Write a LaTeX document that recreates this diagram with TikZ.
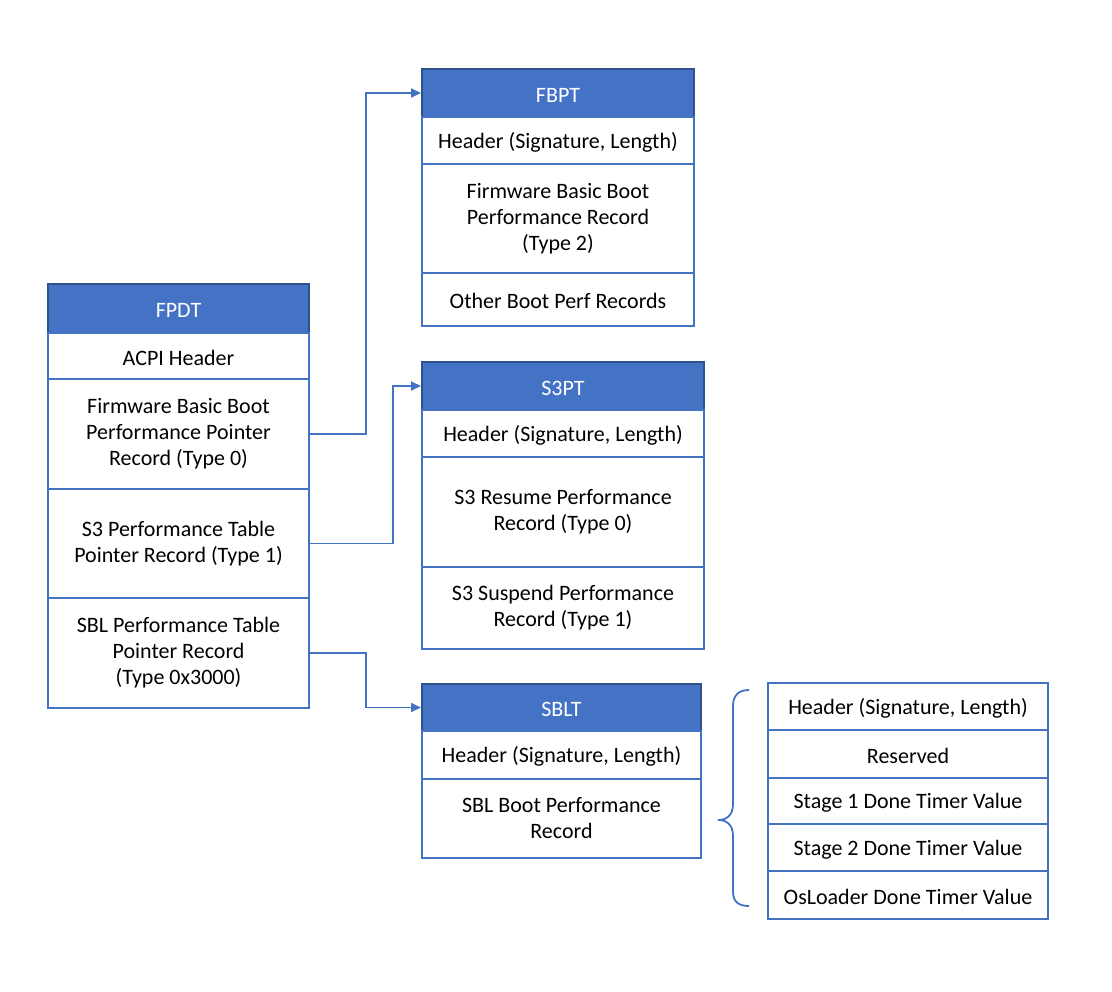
\documentclass[tikz,border=0pt]{standalone}
\usepackage{fontspec}
\setmainfont{Carlito}
\usetikzlibrary{arrows.meta}
\definecolor{mblue}{RGB}{68,114,196}
\definecolor{dblue}{RGB}{47,82,143}
\tikzset{
  cell/.style={draw=mblue, line width=2pt, fill=white, anchor=north west,
    inner sep=0pt, align=center, font=\fontsize{22}{26}\selectfont, text=black,
    execute at begin node={\rule{0pt}{19pt}}},
  hdr/.style={cell, fill=mblue, draw=dblue, text=white},
  conn/.style={draw=mblue, line width=1.8pt, -{Triangle[length=10pt,width=9pt]}},
  bracepath/.style={draw=mblue, line width=1.8pt}
}
\newcommand{\cellbox}[6]{% style, name, x, y, w, h, text
  \node[#1, minimum width=#5pt, minimum height=#6pt] (#2) at (#3,#4)}
\begin{document}
\begin{tikzpicture}[x=1pt,y=-1pt]
\useasboundingbox (0,0) rectangle (1112,992);
% FPDT
\cellbox{hdr}{fpdt0}{47}{283}{261}{49} {FPDT};
\cellbox{cell}{fpdt1}{47}{332}{261}{46} {ACPI Header};
\cellbox{cell}{fpdt2}{47}{378}{261}{110} {Firmware Basic Boot\\Performance Pointer\\Record (Type 0)};
\cellbox{cell}{fpdt3}{47}{488}{261}{109} {S3 Performance Table\\Pointer Record (Type 1)};
\cellbox{cell}{fpdt4}{47}{597}{261}{110} {SBL Performance Table\\Pointer Record\\(Type 0x3000)};
% FBPT
\cellbox{hdr}{fbpt0}{421}{68}{272}{48} {FBPT};
\cellbox{cell}{fbpt1}{421}{116}{272}{47} {Header (Signature, Length)};
\cellbox{cell}{fbpt2}{421}{163}{272}{109} {Firmware Basic Boot\\Performance Record\\(Type 2)};
\cellbox{cell}{fbpt3}{421}{272}{272}{53} {Other Boot Perf Records};
% S3PT
\cellbox{hdr}{s3pt0}{421}{361}{282}{48} {S3PT};
\cellbox{cell}{s3pt1}{421}{409}{282}{47} {Header (Signature, Length)};
\cellbox{cell}{s3pt2}{421}{456}{282}{110} {S3 Resume Performance\\Record (Type 0)};
\cellbox{cell}{s3pt3}{421}{566}{282}{82} {S3 Suspend Performance\\Record (Type 1)};
% SBLT
\cellbox{hdr}{sblt0}{421}{683}{279}{47} {SBLT};
\cellbox{cell}{sblt1}{421}{730}{279}{48} {Header (Signature, Length)};
\cellbox{cell}{sblt2}{421}{778}{279}{79} {SBL Boot Performance\\Record};
% SBL record detail
\cellbox{cell}{rec1}{767}{682}{280}{47} {Header (Signature, Length)};
\cellbox{cell}{rec2}{767}{729}{280}{48} {Reserved};
\cellbox{cell}{rec3}{767}{777}{280}{46} {Stage 1 Done Timer Value};
\cellbox{cell}{rec4}{767}{823}{280}{47} {Stage 2 Done Timer Value};
\cellbox{cell}{rec5}{767}{870}{280}{48} {OsLoader Done Timer Value};
% connectors
\draw[conn] (fpdt2.east) -- ++(56,0) |- (fbpt0.west);
\draw[conn] (fpdt3.east) -- ++(83,0) |- (s3pt0.west);
\draw[conn] (fpdt4.east) -- ++(56,0) |- (sblt0.west);
% brace
\draw[bracepath] (749,690) .. controls (739,690) and (733,695) .. (733,706)
  -- (733,804) .. controls (733,815) and (727,820) .. (718,820)
  .. controls (727,820) and (733,825) .. (733,836)
  -- (733,892) .. controls (733,902) and (739,906) .. (749,906);
\end{tikzpicture}
\end{document}
